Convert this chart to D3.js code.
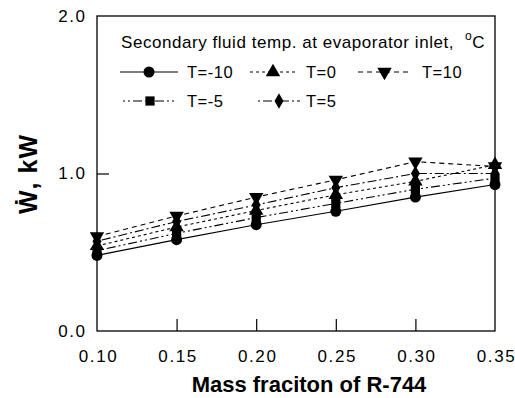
<!DOCTYPE html>
<html>
<head>
<meta charset="utf-8">
<script src="https://cdn.jsdelivr.net/npm/d3@7"></script>
<style>
  body { margin: 0; background: #fff; }
  text { font-family: "Liberation Sans", Arial, sans-serif; fill: #000; }
</style>
</head>
<body>
<div class="canvas"></div>
<script>
// data
const massFraction = [0.10, 0.15, 0.20, 0.25, 0.30, 0.35];
const tMinus10 = [0.48, 0.58, 0.675, 0.76, 0.85, 0.93];
const tMinus5  = [0.51, 0.62, 0.72, 0.81, 0.90, 0.97];
const t0       = [0.54, 0.66, 0.765, 0.865, 0.95, 1.055];
const t5       = [0.57, 0.695, 0.80, 0.91, 1.00, 1.00];
const t10      = [0.60, 0.73, 0.85, 0.96, 1.075, 1.045];
const xTicks = [0.10, 0.15, 0.20, 0.25, 0.30, 0.35];
const yTicks = [0.0, 1.0, 2.0];

const series = [
  {name: 'T=-10', values: tMinus10, symbol: d3.symbolCircle, size: 95, dash: null},
  {name: 'T=-5', values: tMinus5, symbol: d3.symbolSquare, size: 85, dash: '2,3,2,3,9,3'},
  {name: 'T=0', values: t0, symbol: d3.symbolTriangle, size: 90, dash: '3,3'},
  {name: 'T=5', values: t5, symbol: d3.symbolDiamond, size: 70, dash: '2,3,9,3'},
  {name: 'T=10', values: t10, symbol: 'down', size: 90, dash: '5,4'}
];

const svg = d3.select('.canvas')
    .append('svg')
    .attr('width', 515)
    .attr('height', 398);

const margin = {top: 16, right: 20, bottom: 67, left: 97};
const graphWidth = 515 - margin.left - margin.right;
const graphHeight = 398 - margin.top - margin.bottom;

const graph = svg.append('g')
    .attr('transform', `translate(${margin.left},${margin.top})`);

const x = d3.scaleLinear().domain([0.10, 0.35]).range([0, graphWidth]);
const y = d3.scaleLinear().domain([0, 2]).range([graphHeight, 0]);

// axes, ticks pointing inward
const xAxis = d3.axisBottom(x).tickValues(xTicks).tickFormat(d3.format('.2f'))
    .tickSizeInner(-12).tickSizeOuter(0).tickPadding(19);
const yAxis = d3.axisLeft(y).tickValues(yTicks).tickFormat(d3.format('.1f'))
    .tickSizeInner(-12).tickSizeOuter(0).tickPadding(12);

const xg = graph.append('g').attr('transform', `translate(0,${graphHeight})`).call(xAxis);
const yg = graph.append('g').call(yAxis);
[xg, yg].forEach(g => {
  g.select('.domain').remove();
  g.selectAll('line').attr('stroke', '#000').attr('stroke-width', 1.2);
  g.selectAll('text')
      .style('font-size', '17px')
      .style('letter-spacing', '1.6px')
      .attr('fill', '#000');
});
xg.selectAll('text').attr('dx', '1px');
yg.selectAll('text').attr('dx', '1.6px');
// the 0.10 / 0.35 ticks sit on the frame
xg.selectAll('.tick line').filter(d => d === 0.10 || d === 0.35).remove();
yg.selectAll('.tick line').filter(d => d === 0 || d === 2).remove();

// frame
graph.append('rect')
    .attr('width', graphWidth)
    .attr('height', graphHeight)
    .attr('fill', 'none')
    .attr('stroke', '#000')
    .attr('stroke-width', 1.3);

// axis titles
svg.append('text')
    .attr('x', 309)
    .attr('y', 392)
    .attr('text-anchor', 'middle')
    .style('font-size', '22px')
    .style('font-weight', 'bold')
    .text('Mass fraciton of R-744');

svg.append('text')
    .attr('transform', 'translate(37,174) rotate(-90)')
    .attr('text-anchor', 'middle')
    .style('font-size', '25px')
    .style('font-weight', 'bold')
    .style('letter-spacing', '1px')
    .text('\u1E86, kW');

const symbolPath = s => d3.symbol(s.symbol === 'down' ? d3.symbolTriangle : s.symbol, s.size)();
const markerTurn = s => s.symbol === 'down' ? ' rotate(180)' : '';

const line = d3.line()
    .x((d, i) => x(massFraction[i]))
    .y(d => y(d));

series.forEach(s => {
  graph.append('path')
      .datum(s.values)
      .attr('d', line)
      .attr('fill', 'none')
      .attr('stroke', '#000')
      .attr('stroke-width', 1.1)
      .attr('stroke-dasharray', s.dash);
});

series.forEach(s => {
  graph.selectAll(null)
      .data(s.values)
      .enter()
      .append('path')
      .attr('d', symbolPath(s))
      .attr('transform', (d, i) => `translate(${x(massFraction[i])},${y(d)})` + markerTurn(s))
      .attr('fill', '#000');
});

// legend
const legend = svg.append('g');
const title = legend.append('text')
    .attr('x', 121)
    .attr('y', 48)
    .style('font-size', '17px')
    .style('letter-spacing', '0.55px')
    .text('Secondary fluid temp. at evaporator inlet,');
title.append('tspan').attr('dx', 11).attr('dy', -8).style('font-size', '12px').text('o');
title.append('tspan').attr('dy', 8).text('C');

const legendPos = [
  {x0: 120, x1: 178, tx: 187, y: 72},
  {x0: 123, x1: 177, tx: 187, y: 101},
  {x0: 250, x1: 296, tx: 306, y: 72},
  {x0: 258, x1: 300, tx: 306, y: 101},
  {x0: 358, x1: 411, tx: 422, y: 72}
];

series.forEach((s, i) => {
  const p = legendPos[i];
  const g = legend.append('g');
  g.append('line')
      .attr('x1', p.x0).attr('x2', p.x1)
      .attr('y1', p.y).attr('y2', p.y)
      .attr('stroke', '#000')
      .attr('stroke-width', 1.1)
      .attr('stroke-dasharray', s.dash);
  g.append('path')
      .attr('d', symbolPath(s))
      .attr('transform', `translate(${(p.x0 + p.x1) / 2},${p.y})` + markerTurn(s))
      .attr('fill', '#000');
  g.append('text')
      .attr('x', p.tx)
      .attr('y', p.y + 6)
      .style('font-size', '16.5px')
      .style('letter-spacing', '0.5px')
      .text(s.name);
});
</script>
</body>
</html>
